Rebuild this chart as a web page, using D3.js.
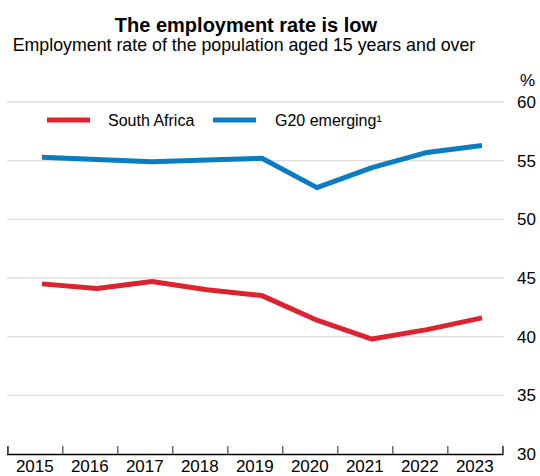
<!DOCTYPE html>
<html>
<head>
<meta charset="utf-8">
<script src="https://cdn.jsdelivr.net/npm/d3@7"></script>
<style>
  html, body { margin: 0; padding: 0; background: #fff; }
  svg { display: block; font-family: "Liberation Sans", Arial, sans-serif; }
</style>
</head>
<body>
<svg id="chart" width="540" height="476"></svg>
<script>
const years = [2015, 2016, 2017, 2018, 2019, 2020, 2021, 2022, 2023];
const southAfrica = [44.5, 44.1, 44.7, 44.0, 43.5, 41.4, 39.8, 40.6, 41.6];
const g20Emerging = [55.3, 55.1, 54.9, 55.05, 55.2, 52.7, 54.4, 55.7, 56.3];
const yTicks = [30, 35, 40, 45, 50, 55, 60];
const seriesNames = ["South Africa", "G20 emerging\u00b9"];
const seriesColors = ["#dc2330", "#0b7cc2"];
const titleText = "The employment rate is low";
const subtitleText = "Employment rate of the population aged 15 years and over";
const unitText = "%";

const svg = d3.select("#chart");
const pointOffset = 0.63;

const x = d3.scaleLinear().domain([2015, 2024]).range([7.3, 502.3]);
const y = d3.scaleLinear().domain([30, 60]).range([454, 102]);

// Title & subtitle
svg.append("text").attr("x", 246).attr("y", 32).attr("text-anchor", "middle")
  .attr("font-size", 20).attr("font-weight", "bold").attr("fill", "#000").text(titleText);
svg.append("text").attr("x", 244).attr("y", 50.5).attr("text-anchor", "middle")
  .attr("font-size", 17.8).attr("fill", "#000").text(subtitleText);

// Gridlines
svg.append("g").selectAll("line").data(yTicks.filter(d => d > 30)).join("line")
  .attr("x1", 7).attr("x2", 504)
  .attr("y1", d => y(d)).attr("y2", d => y(d))
  .attr("stroke", "#dcdcdc").attr("stroke-width", 1.3);

// Y axis on right
const yAxis = d3.axisRight(y).tickValues(yTicks).tickSize(0).tickPadding(0);
const gy = svg.append("g").attr("transform", "translate(536,0)").call(yAxis);
gy.select(".domain").remove();
gy.selectAll("text").attr("text-anchor", "end").attr("font-size", 17)
  .attr("font-family", "Liberation Sans, Arial, sans-serif").attr("fill", "#000");

svg.append("text").attr("x", 535).attr("y", 86).attr("text-anchor", "end")
  .attr("font-size", 17).attr("fill", "#000").text(unitText);

// X axis
const xAxis = d3.axisBottom(x).tickValues(d3.range(2015, 2025)).tickSize(-8).tickFormat("");
const gx = svg.append("g").attr("transform", `translate(0,${y(30)})`).call(xAxis);
gx.select(".domain").attr("stroke", "#000").attr("stroke-width", 1.5);
gx.selectAll(".tick line").attr("stroke", "#555").attr("stroke-width", 1.3);

svg.append("g").selectAll("text").data(years).join("text")
  .attr("x", d => x(d + 0.5)).attr("y", 472).attr("text-anchor", "middle")
  .attr("font-size", 17).attr("fill", "#000").text(d => d);

// Lines
const line = d3.line().x((d, i) => x(years[i] + pointOffset)).y(d => y(d));
[southAfrica, g20Emerging].forEach((s, k) => {
  svg.append("path").datum(s).attr("d", line)
    .attr("fill", "none").attr("stroke", seriesColors[k])
    .attr("stroke-width", 5).attr("stroke-linejoin", "round");
});

// Legend
const legendX = [47, 213];
const legendTextX = [108, 275];
seriesNames.forEach((name, k) => {
  svg.append("line").attr("x1", legendX[k]).attr("x2", legendX[k] + 43)
    .attr("y1", 120).attr("y2", 120)
    .attr("stroke", seriesColors[k]).attr("stroke-width", 5);
  svg.append("text").attr("x", legendTextX[k]).attr("y", 125.5)
    .attr("font-size", 16).attr("fill", "#000").text(name);
});
</script>
</body>
</html>
